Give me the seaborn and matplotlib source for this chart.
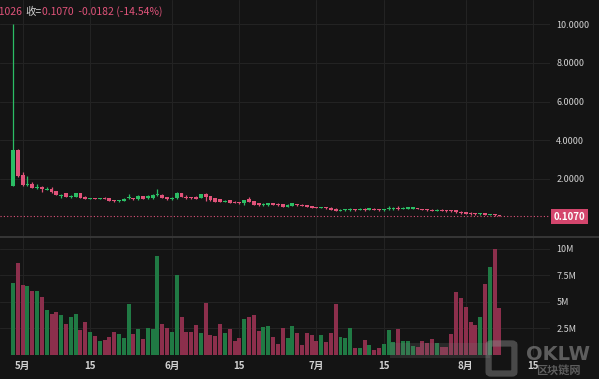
"""
K线 + 成交量 (暗色主题) — 日线, 4月末到8月初
"""

import numpy as np
import pandas as pd
import matplotlib
matplotlib.use("Agg")
import matplotlib.pyplot as plt
import seaborn as sns
from matplotlib.patches import FancyBboxPatch, Rectangle

# ── data ────────────────────────────────────────────────────────────────────
start = pd.Timestamp("2024-04-29")

open_ = [1.65, 3.50, 2.20, 1.70, 1.76, 1.56, 1.60, 1.44, 1.47, 1.38,
         1.13, 1.26, 1.05, 1.08, 1.26, 1.08, 0.97, 1.00, 0.97, 1.04,
         1.02, 0.90, 0.84, 0.85, 1.00, 1.00, 0.95, 1.10, 1.00, 1.00,
         1.15, 1.19, 1.05, 0.95, 1.00, 1.26, 1.08, 1.05, 1.06, 1.03,
         1.21, 1.12, 1.02, 0.95, 0.82, 0.90, 0.82, 0.78, 0.74, 0.97,
         0.86, 0.74, 0.64, 0.64, 0.74, 0.72, 0.71, 0.57, 0.60, 0.70,
         0.68, 0.64, 0.59, 0.54, 0.50, 0.54, 0.52, 0.46, 0.35, 0.38,
         0.38, 0.45, 0.40, 0.46, 0.40, 0.47, 0.45, 0.38, 0.43, 0.43,
         0.52, 0.45, 0.47, 0.47, 0.50, 0.45, 0.44, 0.42, 0.36, 0.41,
         0.39, 0.38, 0.38, 0.31, 0.28, 0.25, 0.22, 0.18, 0.22, 0.14,
         0.19, 0.125]
close = [3.50, 2.17, 1.70, 1.76, 1.56, 1.60, 1.46, 1.50, 1.31, 1.17,
         1.17, 1.08, 1.10, 1.26, 1.03, 0.98, 1.00, 0.97, 1.00, 0.98,
         0.88, 0.84, 0.92, 0.98, 1.05, 0.95, 1.10, 0.98, 1.10, 1.19,
         1.20, 1.02, 0.95, 1.03, 1.28, 1.07, 1.00, 1.00, 0.98, 1.21,
         1.09, 0.90, 0.83, 0.81, 0.88, 0.77, 0.78, 0.74, 0.90, 0.83,
         0.66, 0.64, 0.72, 0.74, 0.66, 0.64, 0.55, 0.67, 0.74, 0.65,
         0.60, 0.55, 0.51, 0.50, 0.54, 0.49, 0.40, 0.35, 0.41, 0.45,
         0.46, 0.38, 0.47, 0.38, 0.48, 0.40, 0.38, 0.45, 0.50, 0.52,
         0.43, 0.52, 0.54, 0.54, 0.45, 0.40, 0.38, 0.37, 0.41, 0.36,
         0.33, 0.33, 0.28, 0.22, 0.20, 0.18, 0.18, 0.22, 0.14, 0.19,
         0.125, 0.107]
high = [10.0, 3.55, 2.38, 2.17, 1.86, 1.73, 1.62, 1.60, 1.57, 1.40,
        1.22, 1.27, 1.15, 1.28, 1.28, 1.10, 1.02, 1.03, 1.02, 1.06,
        1.04, 0.92, 0.94, 1.00, 1.20, 1.02, 1.16, 1.12, 1.16, 1.21,
        1.47, 1.24, 1.07, 1.05, 1.32, 1.28, 1.16, 1.07, 1.14, 1.23,
        1.30, 1.14, 1.04, 0.97, 0.90, 0.92, 0.84, 0.80, 0.92, 1.06,
        0.88, 0.76, 0.74, 0.76, 0.76, 0.74, 0.73, 0.69, 0.76, 0.72,
        0.70, 0.66, 0.61, 0.56, 0.56, 0.56, 0.54, 0.48, 0.43, 0.47,
        0.48, 0.47, 0.49, 0.48, 0.50, 0.49, 0.47, 0.47, 0.60, 0.54,
        0.62, 0.54, 0.56, 0.56, 0.52, 0.47, 0.46, 0.44, 0.43, 0.43,
        0.41, 0.40, 0.40, 0.33, 0.30, 0.27, 0.24, 0.24, 0.24, 0.21,
        0.21, 0.13]
low = [1.62, 2.10, 1.64, 1.66, 1.52, 1.50, 1.34, 1.42, 1.30, 1.15,
       1.03, 1.06, 1.00, 1.06, 1.01, 0.96, 0.95, 0.95, 0.95, 0.96,
       0.86, 0.82, 0.82, 0.84, 0.98, 0.93, 0.94, 0.96, 0.98, 0.98,
       1.12, 1.00, 0.93, 0.93, 0.98, 1.05, 0.98, 0.98, 0.96, 1.01,
       0.88, 0.88, 0.81, 0.79, 0.80, 0.75, 0.76, 0.72, 0.66, 0.81,
       0.64, 0.62, 0.62, 0.62, 0.64, 0.62, 0.53, 0.55, 0.58, 0.63,
       0.58, 0.53, 0.49, 0.48, 0.48, 0.47, 0.38, 0.33, 0.33, 0.36,
       0.36, 0.36, 0.38, 0.36, 0.38, 0.38, 0.36, 0.36, 0.41, 0.41,
       0.41, 0.43, 0.45, 0.45, 0.43, 0.38, 0.36, 0.35, 0.34, 0.34,
       0.31, 0.31, 0.26, 0.20, 0.18, 0.16, 0.16, 0.16, 0.12, 0.12,
       0.11, 0.1026]
# 成交量 (百万)
volume = [6.74, 8.66, 6.58, 6.49, 5.98, 6.01, 5.45, 4.21, 3.84, 4.00,
          3.74, 2.89, 3.55, 3.84, 2.32, 3.08, 2.13, 1.75, 1.31, 1.37,
          1.69, 2.13, 1.94, 1.56, 4.78, 1.94, 2.39, 1.47, 2.54, 2.39,
          9.33, 2.86, 2.51, 2.13, 7.56, 3.52, 2.10, 2.10, 2.79, 2.07,
          4.90, 1.85, 1.75, 2.92, 2.04, 2.41, 1.28, 1.59, 3.39, 3.58,
          3.71, 2.26, 2.60, 2.70, 1.69, 1.02, 2.48, 1.59, 2.70, 2.00,
          0.87, 2.04, 1.85, 1.28, 1.85, 1.21, 2.04, 4.78, 1.66, 1.59,
          2.54, 0.64, 0.64, 1.34, 0.87, 0.43, 0.64, 0.97, 2.35, 1.18,
          2.41, 1.28, 1.28, 0.80, 0.75, 1.28, 1.12, 1.50, 1.06, 0.70,
          0.70, 1.94, 5.92, 5.32, 4.53, 3.11, 2.79, 3.58, 6.68, 8.26,
          9.99, 4.37]

price_ticks = [2, 4, 6, 8, 10]
vol_ticks = [2.5, 5, 7.5, 10]
vol_labels = ["2.5M", "5M", "7.5M", "10M"]
date_ticks = ["2024-05-01", "2024-05-15", "2024-06-01", "2024-06-15",
              "2024-07-01", "2024-07-15", "2024-08-01", "2024-08-15"]
date_labels = ["5月", "15", "6月", "15", "7月", "15", "8月", "15"]
last_price = 0.1070

# ── colours ─────────────────────────────────────────────────────────────────
BG = "#141414"
GRID = "#232323"
UP, DOWN = "#2bbd64", "#e0537a"
VOL_UP, VOL_DOWN = "#207a44", "#8c2f4c"
TXT = "#d2d2d2"

df = pd.DataFrame({"open": open_, "close": close, "high": high,
                   "low": low, "volume": volume})
df["date"] = pd.date_range(start, periods=len(df), freq="D")
df["day"] = (df["date"] - start).dt.days
df["dir"] = np.where(df["close"] >= df["open"], "up", "down")
tick_days = [(pd.Timestamp(d) - start).days for d in date_ticks]

# ── figure ──────────────────────────────────────────────────────────────────
sns.set_theme(style="dark", rc={"axes.facecolor": BG, "figure.facecolor": BG})
plt.rcParams["font.family"] = ["Noto Sans CJK SC", "DejaVu Sans"]

W, H = 599, 379
fig = plt.figure(figsize=(W / 100, H / 100), dpi=100)
right = 550 / W
axp = fig.add_axes([0, 1 - 236 / H, right, 236 / H])
axv = fig.add_axes([0, 1 - 354.5 / H, right, (354.5 - 237) / H])

xlim = (-2.7, 111.5)

# price panel
for ax in (axp, axv):
    ax.set_facecolor(BG)
    for s in ax.spines.values():
        s.set_visible(False)
    for d in tick_days:
        ax.axvline(d, color=GRID, lw=0.8, zorder=0)

for p in price_ticks:
    axp.axhline(p, color=GRID, lw=0.8, zorder=0)

up = df["dir"] == "up"
body_lo = df[["open", "close"]].min(axis=1)
body_h = (df["close"] - df["open"]).abs().clip(lower=0.05)
cols = np.where(up, UP, DOWN)
axp.vlines(df["day"], df["low"], df["high"], colors=cols, lw=0.9, zorder=2)
axp.bar(df["day"], body_h, bottom=body_lo, width=0.8, color=cols,
        linewidth=0, zorder=3)

axp.axhline(last_price, color=DOWN, lw=0.8, ls=(0, (1, 2)), zorder=1)
axp.set_xlim(*xlim)
axp.set_ylim(-0.946, 11.25)
axp.set_xticks([])
axp.yaxis.tick_right()
axp.set_yticks(price_ticks)
axp.set_yticklabels([f"{p:.4f}" for p in price_ticks])
axp.tick_params(axis="y", length=0, pad=4.5, labelsize=6.5, labelcolor=TXT)

# volume panel
for v in vol_ticks:
    axv.axhline(v, color=GRID, lw=0.8, zorder=0)
sns.barplot(data=df, x="day", y="volume", hue="dir",
            palette={"up": VOL_UP, "down": VOL_DOWN}, dodge=False,
            native_scale=True, width=0.83, errorbar=None, legend=False,
            saturation=1, linewidth=0, ax=axv, zorder=2)
axv.set_xlim(*xlim)
axv.set_ylim(0, 11.13)
axv.set_xlabel("")
axv.set_ylabel("")
axv.yaxis.tick_right()
axv.set_yticks(vol_ticks)
axv.set_yticklabels(vol_labels)
axv.set_xticks(tick_days)
axv.set_xticklabels(date_labels)
axv.tick_params(axis="y", length=0, pad=4.5, labelsize=6.5, labelcolor=TXT)
axv.tick_params(axis="x", length=0, pad=5, labelsize=7, labelcolor=TXT)
for t in axv.get_xticklabels():
    t.set_fontweight("bold")

# pane separator
fig.add_artist(plt.Line2D([0, 1], [1 - 236.7 / H] * 2, color="#3c3c3c",
                          lw=1.2, transform=fig.transFigure))

# last price tag
fig.text(569.5 / W, 1 - 216.5 / H, f"{last_price:.4f}", color="white",
         fontsize=7, fontweight="bold", ha="center", va="center",
         bbox=dict(boxstyle="square,pad=0.25", fc="#d4466d", ec="none"))

# header (clipped on the left)
fig.text(23 / W, 1 - 12 / H, "低=0.1026", color=DOWN, fontsize=7.5,
         ha="right", va="center")
fig.text(25 / W, 1 - 12 / H, "收=", color=TXT, fontsize=7.5,
         ha="left", va="center")
fig.text(42 / W, 1 - 12 / H, "0.1070  -0.0182 (-14.54%)", color=DOWN,
         fontsize=7.5, ha="left", va="center")

# watermark + mosaic
fig.add_artist(Rectangle((390 / W, 1 - 358 / H), 100 / W, 15 / H,
                         transform=fig.transFigure, fc="#777777",
                         alpha=0.22, ec="none", zorder=5))
fig.add_artist(FancyBboxPatch((491 / W, 1 - 372 / H), 21 / W, 27 / H,
                              boxstyle="round,pad=0.004",
                              transform=fig.transFigure, fc="none",
                              ec="#8a8a8a", lw=4.5, alpha=0.45, zorder=6))
fig.text(558 / W, 1 - 354 / H, "OKLW", color="#9a9a9a", alpha=0.55,
         fontsize=14, fontweight="bold", ha="center", va="center",
         family=["DejaVu Sans"], zorder=6)
fig.text(558 / W, 1 - 370 / H, "区块链网", color="#9a9a9a", alpha=0.55,
         fontsize=8, fontweight="bold", ha="center", va="center", zorder=6)

fig.savefig("out.png", dpi=100, facecolor=BG)
